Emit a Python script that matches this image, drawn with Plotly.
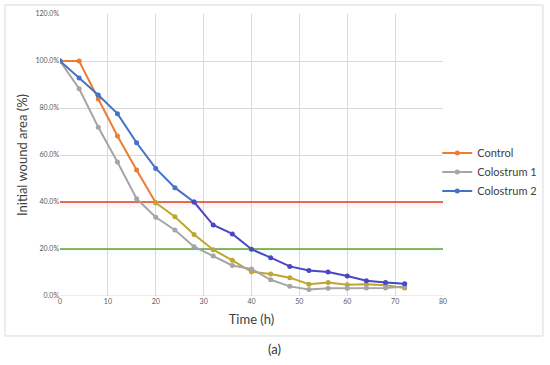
import plotly.graph_objects as go

time_h = [0, 4, 8, 12, 16, 20, 24, 28, 32, 36, 40, 44, 48, 52, 56, 60, 64, 68, 72]
control = [100, 100, 83.8, 68.1, 53.6, 39.7, 33.7, 26.2, 19.7, 15.2, 10.3, 9.4, 7.8, 5.0, 5.7, 4.8, 5.0, 4.6, 3.4]
colostrum1 = [100, 88.2, 71.8, 57.0, 41.4, 33.5, 28.1, 21.0, 17.0, 13.0, 11.5, 6.9, 4.1, 2.8, 3.3, 3.3, 3.4, 3.4, 4.0]
colostrum2 = [100, 92.8, 85.5, 77.6, 65.2, 54.3, 46.1, 40.0, 30.2, 26.4, 19.9, 16.3, 12.6, 10.9, 10.2, 8.5, 6.5, 5.7, 5.2]
threshold_red = 40
threshold_green = 20
x_range = [0, 80]
x_ticks = [0, 10, 20, 30, 40, 50, 60, 70, 80]
y_ticks = [0, 20, 40, 60, 80, 100, 120]
y_tick_labels = ["0.0%", "20.0%", "40.0%", "60.0%", "80.0%", "100.0%", "120.0%"]

ORANGE = "#ED7D31"
OLIVE = "#BFA632"
GRAY = "#A5A5A5"
BLUE = "#4472C4"
INDIGO = "#4848C4"

fig = go.Figure()

# threshold lines as traces (under the data series, over the grid)
fig.add_trace(go.Scatter(x=x_range, y=[threshold_red, threshold_red], mode="lines",
                         line=dict(color="#E0401C", width=1.5), showlegend=False, hoverinfo="skip"))
fig.add_trace(go.Scatter(x=x_range, y=[threshold_green, threshold_green], mode="lines",
                         line=dict(color="#64A033", width=1.5), showlegend=False, hoverinfo="skip"))

def add_split(name, xs, ys, split_idx, c1, c2):
    fig.add_trace(go.Scatter(x=xs[:split_idx + 1], y=ys[:split_idx + 1], name=name,
                             mode="lines+markers", line=dict(color=c1, width=2),
                             marker=dict(color=c1, size=5), legendgroup=name))
    fig.add_trace(go.Scatter(x=xs[split_idx:], y=ys[split_idx:], name=name,
                             mode="lines+markers", line=dict(color=c2, width=2),
                             marker=dict(color=c2, size=5), legendgroup=name,
                             showlegend=False))

add_split("Control", time_h, control, 5, ORANGE, OLIVE)
fig.add_trace(go.Scatter(x=time_h, y=colostrum1, name="Colostrum 1", mode="lines+markers",
                         line=dict(color=GRAY, width=2), marker=dict(color=GRAY, size=5)))
add_split("Colostrum 2", time_h, colostrum2, 7, BLUE, INDIGO)

shapes = [
    dict(type="rect", xref="x", yref="y", x0=0, x1=80, y0=threshold_red - 2.5, y1=threshold_red,
         fillcolor="rgba(250,200,220,0.18)", line=dict(width=0), layer="below"),
    dict(type="rect", xref="x", yref="y", x0=0, x1=80, y0=threshold_green - 2.5, y1=threshold_green,
         fillcolor="rgba(200,245,245,0.18)", line=dict(width=0), layer="below"),
    dict(type="rect", xref="paper", yref="paper", x0=-0.1436, x1=1.261, y0=-0.1418, y1=1.032,
         line=dict(color="#D9D9D9", width=1), fillcolor="rgba(0,0,0,0)"),
    dict(type="line", xref="x", yref="y", x0=0, x1=80, y0=0, y1=0,
         line=dict(color="#D9D9D9", width=1), layer="below"),
]

fig.update_layout(
    width=550, height=365,
    margin=dict(l=60, r=107, t=14, b=69, autoexpand=False),
    paper_bgcolor="white", plot_bgcolor="white",
    font=dict(family="Lato, Carlito, Liberation Sans, sans-serif", color="#404040"),
    shapes=shapes,
    showlegend=True,
    legend=dict(x=0.985, y=0.44, xanchor="left", yanchor="middle",
                font=dict(size=11, color="#404040"), tracegroupgap=0,
                itemwidth=30, bgcolor="rgba(0,0,0,0)"),
    xaxis=dict(range=x_range, tickvals=x_ticks, showgrid=True, gridcolor="#D9D9D9",
               gridwidth=1, zeroline=False, showline=False, ticks="", automargin=False,
               tickfont=dict(size=7, color="#595959"),
               title=dict(text="Time (h)", font=dict(size=13, color="#404040"), standoff=10)),
    yaxis=dict(range=[0, 120], tickvals=y_ticks, ticktext=y_tick_labels,
               showgrid=True, gridcolor="#D9D9D9", gridwidth=1, zeroline=False,
               showline=False, ticks="", automargin=False,
               tickfont=dict(size=7, color="#595959"),
               title=dict(text="Initial wound area (%)", font=dict(size=13, color="#404040"),
                          standoff=4)),
    annotations=[dict(text="(a)", xref="paper", yref="paper", x=0.561, y=-0.188,
                      showarrow=False, font=dict(size=13, color="#333333"),
                      xanchor="center", yanchor="middle")],
)

fig.write_html("out.html", config={"displayModeBar": False},
               post_script="document.body.style.margin='0px';")
